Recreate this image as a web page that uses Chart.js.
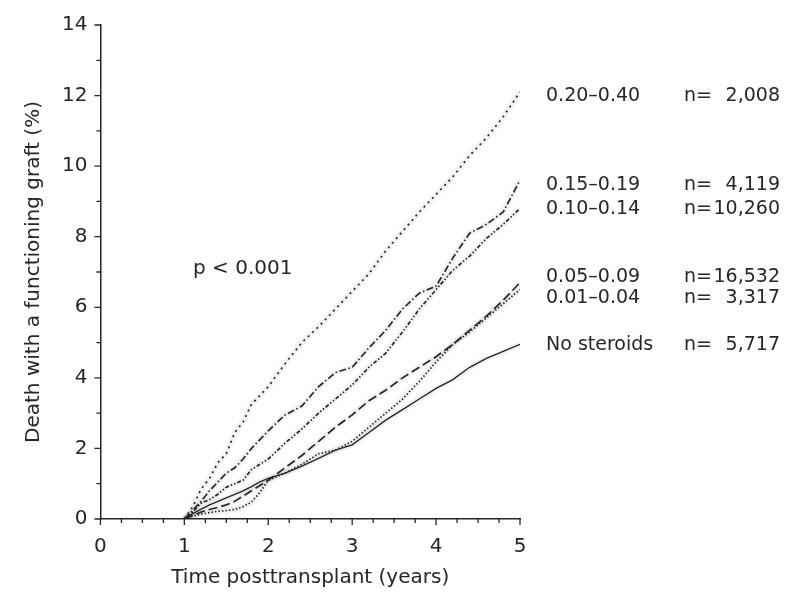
<!DOCTYPE html>
<html>
<head>
<meta charset="utf-8">
<script src="https://cdn.jsdelivr.net/npm/chart.js@4.4.1/dist/chart.umd.min.js"></script>
<style>
  html, body { margin: 0; padding: 0; background: #fff; }
  #wrap { width: 799px; height: 594px; }
</style>
</head>
<body>
<div id="wrap"><canvas id="myChart" width="799" height="594"></canvas></div>
<script>
// years posttransplant
let years = [1.0, 1.1, 1.2, 1.3, 1.4, 1.5, 1.6, 1.7, 1.8, 1.9, 2.0, 2.2, 2.4, 2.6, 2.8, 3.0, 3.2, 3.4, 3.6, 3.8, 4.0, 4.2, 4.4, 4.6, 4.8, 5.0];

// death with a functioning graft (%) by steroid dose group
let dose20to40 = [0, 0.35, 0.85, 1.15, 1.6, 1.85, 2.45, 2.75, 3.25, 3.5, 3.75, 4.4, 5.0, 5.45, 5.95, 6.45, 6.95, 7.6, 8.15, 8.7, 9.2, 9.7, 10.3, 10.8, 11.4, 12.1];
let dose15to19 = [0, 0.25, 0.5, 0.8, 1.05, 1.3, 1.45, 1.7, 2.0, 2.25, 2.5, 2.95, 3.2, 3.75, 4.15, 4.3, 4.85, 5.35, 5.95, 6.4, 6.6, 7.4, 8.1, 8.35, 8.7, 9.6];
let dose10to14 = [0, 0.2, 0.45, 0.55, 0.7, 0.9, 1.0, 1.1, 1.4, 1.55, 1.7, 2.15, 2.55, 3.0, 3.4, 3.8, 4.3, 4.7, 5.3, 5.95, 6.5, 7.05, 7.45, 7.95, 8.35, 8.8];
let dose05to09 = [0, 0.1, 0.2, 0.27, 0.33, 0.4, 0.5, 0.65, 0.8, 0.95, 1.1, 1.45, 1.8, 2.2, 2.6, 2.95, 3.35, 3.65, 4.0, 4.3, 4.6, 4.95, 5.35, 5.75, 6.2, 6.7];
let dose01to04 = [0, 0.08, 0.14, 0.18, 0.22, 0.24, 0.27, 0.35, 0.48, 0.75, 1.1, 1.3, 1.55, 1.85, 1.95, 2.2, 2.6, 3.0, 3.4, 3.9, 4.45, 4.95, 5.3, 5.7, 6.1, 6.5];
let noSteroids = [0, 0.15, 0.28, 0.4, 0.5, 0.6, 0.7, 0.8, 0.92, 1.05, 1.15, 1.3, 1.5, 1.72, 1.95, 2.1, 2.45, 2.8, 3.1, 3.4, 3.7, 3.95, 4.3, 4.55, 4.75, 4.95];

let groups = ["0.20\u20130.40", "0.15\u20130.19", "0.10\u20130.14", "0.05\u20130.09", "0.01\u20130.04", "No steroids"];
let counts = ["2,008", "4,119", "10,260", "16,532", "3,317", "5,717"];
let xTicks = [0, 1, 2, 3, 4, 5];
let yTicks = [0, 2, 4, 6, 8, 10, 12, 14];

let series = [dose20to40, dose15to19, dose10to14, dose05to09, dose01to04, noSteroids];
let dashes = [[2, 4], [7, 2.5, 1.5, 2.5], [4, 2, 1.5, 2, 1.5, 2], [9, 4], [1.5, 2], []];
// where each label row sits, in y-axis units
let labelAt = [12.0, 9.45, 8.78, 6.86, 6.27, 4.94];

const FONT = "DejaVu Sans";
const INK = "#262626";

function points(vals) {
    return vals.map((v, i) => ({ x: years[i], y: v }));
}

let datasets = [];
series.forEach((vals, i) => {
    datasets.push({
        label: groups[i] + " halo",
        data: points(vals),
        borderColor: "rgba(0,0,0,0.05)",
        borderWidth: 6,
        pointRadius: 0,
        tension: 0,
        order: 10
    });
});
series.forEach((vals, i) => {
    datasets.push({
        label: groups[i],
        data: points(vals),
        borderColor: INK,
        borderWidth: i === 5 ? 1.4 : 1.7,
        borderDash: dashes[i],
        pointRadius: 0,
        tension: 0,
        order: 1
    });
});

// small tick marks (major + minor) drawn from the scales
let tickMarks = {
    id: "tickMarks",
    afterDraw(chart) {
        let ctx = chart.ctx;
        let xs = chart.scales.x, ys = chart.scales.y;
        let x0 = xs.getPixelForValue(0), y0 = ys.getPixelForValue(0);
        ctx.save();
        ctx.strokeStyle = INK;
        ctx.lineWidth = 1.3;
        ctx.beginPath();
        for (let i = 0; i <= 20; i++) {
            let px = xs.getPixelForValue(i / 4);
            let len = (i % 4 === 0) ? 6 : 4;
            ctx.moveTo(px, y0);
            ctx.lineTo(px, y0 + len);
        }
        for (let j = 0; j <= 14; j++) {
            let py = ys.getPixelForValue(j);
            let len = (j % 2 === 0) ? 6 : 4;
            ctx.moveTo(x0, py);
            ctx.lineTo(x0 - len, py);
        }
        ctx.stroke();
        ctx.restore();
    }
};

let sideLabels = {
    id: "sideLabels",
    afterDraw(chart) {
        let ctx = chart.ctx;
        let ys = chart.scales.y;
        ctx.save();
        ctx.fillStyle = INK;
        ctx.font = "19px '" + FONT + "'";
        ctx.textBaseline = "middle";
        groups.forEach((g, i) => {
            let py = ys.getPixelForValue(labelAt[i]);
            ctx.textAlign = "left";
            ctx.fillText(g, 546, py);
            ctx.fillText("n=", 684, py);
            ctx.textAlign = "right";
            ctx.fillText(counts[i], 780, py);
        });
        ctx.textAlign = "left";
        ctx.font = "20px '" + FONT + "'";
        ctx.fillText("p < 0.001", 193, ys.getPixelForValue(7.1));
        ctx.restore();
    }
};

let myChart = document.getElementById("myChart").getContext("2d");

let lineChart = new Chart(myChart, {
    type: "line",
    data: { datasets: datasets },
    options: {
        responsive: false,
        animation: false,
        layout: { padding: { left: 22, right: 279, top: 16, bottom: 4 } },
        plugins: {
            legend: { display: false },
            tooltip: { enabled: false }
        },
        scales: {
            x: {
                type: "linear",
                min: 0,
                max: 5,
                afterBuildTicks: (axis) => { axis.ticks = xTicks.map(v => ({ value: v })); },
                ticks: { color: INK, font: { family: FONT, size: 20 }, padding: 16, maxRotation: 0 },
                grid: { display: false, drawTicks: false },
                border: { display: true, color: INK, width: 1.5 },
                title: {
                    display: true,
                    text: "Time posttransplant (years)",
                    color: INK,
                    font: { family: FONT, size: 20 },
                    padding: { top: -9, bottom: 0 }
                }
            },
            y: {
                min: 0,
                max: 14,
                afterBuildTicks: (axis) => { axis.ticks = yTicks.map(v => ({ value: v })); },
                ticks: { color: INK, font: { family: FONT, size: 20 }, padding: 13 },
                grid: { display: false, drawTicks: false },
                border: { display: true, color: INK, width: 1.5 },
                title: {
                    display: true,
                    text: "Death with a functioning graft (%)",
                    color: INK,
                    font: { family: FONT, size: 20 },
                    padding: { top: 0, bottom: 3 }
                }
            }
        }
    },
    plugins: [tickMarks, sideLabels]
});
</script>
</body>
</html>
